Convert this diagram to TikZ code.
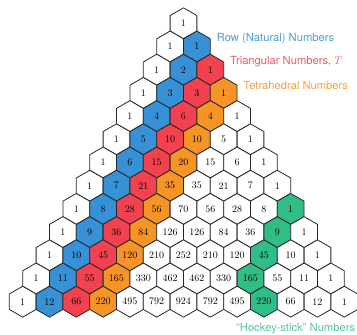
\documentclass[tikz,border=0pt]{standalone}
\usepackage{fontspec}
\newfontfamily\labelfont{TeX Gyre Heros}
\usetikzlibrary{shapes.geometric}
\definecolor{rowblue}{RGB}{55,145,215}
\definecolor{trired}{RGB}{242,66,80}
\definecolor{tetorange}{RGB}{247,148,38}
\definecolor{hockgreen}{RGB}{48,190,135}
\tikzset{
  hexcell/.style={regular polygon, regular polygon sides=6, shape border rotate=30,
    minimum size=30.9pt, inner sep=0pt, outer sep=0pt, draw=black!85, line width=0.8pt,
    font=\fontsize{10}{11}\selectfont},
  lbl/.style={anchor=west, inner sep=0pt, font=\labelfont\fontsize{11.2}{12}\selectfont}
}
\begin{document}
\begin{tikzpicture}[x=1pt,y=1pt]
\useasboundingbox (-183.5,23.3) rectangle (173.5,-311.7);
\foreach \n/\vals in {0/{1},1/{1,1},2/{1,2,1},3/{1,3,3,1},4/{1,4,6,4,1},5/{1,5,10,10,5,1},
  6/{1,6,15,20,15,6,1},7/{1,7,21,35,35,21,7,1},8/{1,8,28,56,70,56,28,8,1},
  9/{1,9,36,84,126,126,84,36,9,1},10/{1,10,45,120,210,252,210,120,45,10,1},
  11/{1,11,55,165,330,462,462,330,165,55,11,1},12/{1,12,66,220,495,792,924,792,495,220,66,12,1}}{
  \foreach \v [count=\k from 0] in \vals {
    \def\fillc{white}
    \ifnum\k=1 \def\fillc{rowblue}\fi
    \ifnum\k=2 \def\fillc{trired}\fi
    \ifnum\k=3 \def\fillc{tetorange}\fi
    \ifnum\n>7 \ifnum\n<12 \ifnum\k=8 \def\fillc{hockgreen}\fi\fi\fi
    \ifnum\n=12 \ifnum\k=9 \def\fillc{hockgreen}\fi\fi
    \node[hexcell, fill=\fillc] (h\n-\k) at ({(\k-\n/2)*26.8}, {-\n*23.2}) {\v};
  }
}
\node[lbl, text=rowblue!90!white] (lrow) at (33.2,-15) {Row (Natural) Numbers};
\node[lbl, text=trired!90!white] (ltri) at (46.5,-38.4) {Triangular Numbers, $T$};
\node[lbl, text=tetorange!90!white] (ltet) at (59.8,-61.7) {Tetrahedral Numbers};
\node[lbl, text=hockgreen!85!white] (lhock) at (52.5,-305.7) {“Hockey-stick” Numbers};
\end{tikzpicture}
\end{document}
